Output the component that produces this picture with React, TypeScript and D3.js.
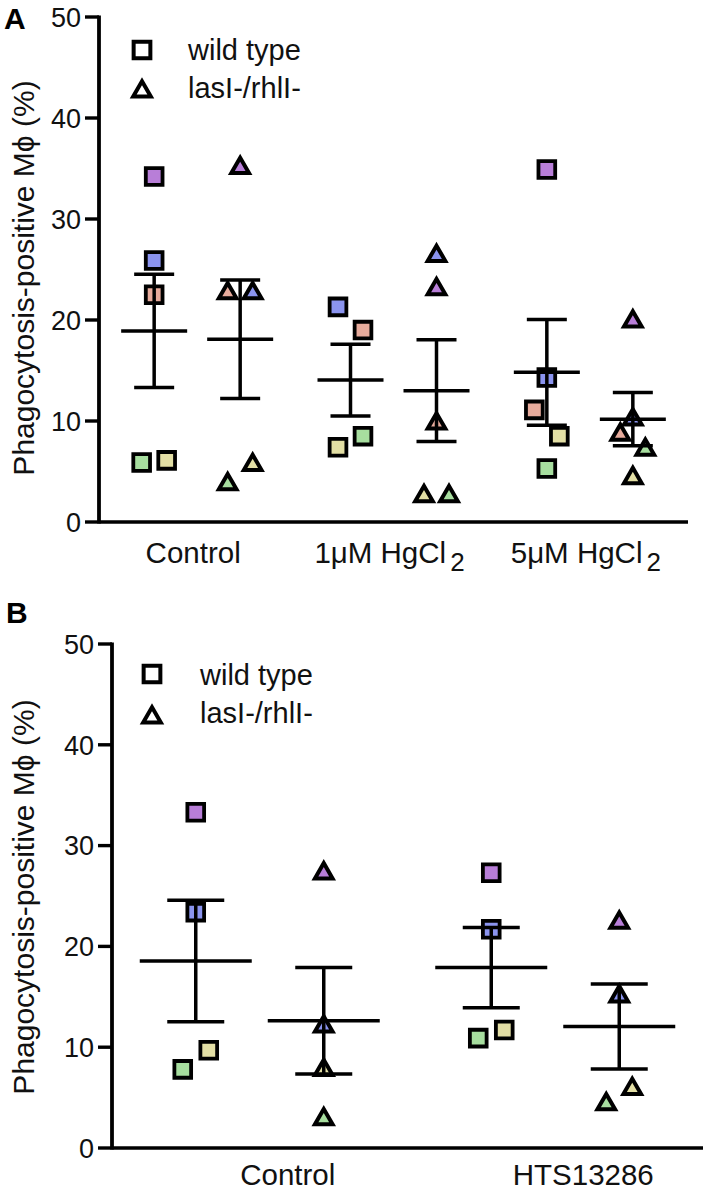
import React from "react";
import * as d3 from "d3";

// ---------- DATA ----------
const strains = ["wild type", "lasI-/rhlI-"];
const yTicks = [0, 10, 20, 30, 40, 50];

const panelACategories = ["Control", "1μM HgCl", "5μM HgCl"];
const panelASubscripts = ["", "2", "2"];
const aWildTypeValues = [
  [34.2, 25.9, 22.5, 5.9, 6.1],
  [21.3, 19.0, 7.4, 8.5],
  [34.9, 14.3, 11.1, 8.5, 5.3],
];
const aWildTypeColors = [
  ["purple", "blue", "pink", "green", "yellow"],
  ["blue", "pink", "yellow", "green"],
  ["purple", "blue", "pink", "yellow", "green"],
];
const aWildTypeSlots = [
  [0, 0, 0, -1, 1],
  [-1, 1, -1, 1],
  [0, 0, -1, 1, 0],
];
const aMutantValues = [
  [35.2, 22.8, 22.8, 3.9, 5.8],
  [26.5, 23.2, 9.9, 2.7, 2.7],
  [20.0, 10.3, 8.8, 7.3, 4.5],
];
const aMutantColors = [
  ["purple", "pink", "blue", "green", "yellow"],
  ["blue", "purple", "pink", "yellow", "green"],
  ["purple", "blue", "pink", "green", "yellow"],
];
const aMutantSlots = [
  [0, -1, 1, -1, 1],
  [0, 0, 0, -1, 1],
  [0, 0, -1, 1, 0],
];

const panelBCategories = ["Control", "HTS13286"];
const panelBSubscripts = ["", ""];
const bWildTypeValues = [
  [33.3, 23.4, 9.7, 7.8],
  [27.3, 21.7, 10.9, 11.7],
];
const bWildTypeColors = [
  ["purple", "blue", "yellow", "green"],
  ["purple", "blue", "green", "yellow"],
];
const bWildTypeSlots = [
  [0, 0, 1, -1],
  [0, 0, -1, 1],
];
const bMutantValues = [
  [27.4, 12.2, 7.9, 3.0],
  [22.5, 15.2, 6.0, 4.5],
];
const bMutantColors = [
  ["purple", "blue", "yellow", "green"],
  ["purple", "blue", "yellow", "green"],
];
const bMutantSlots = [
  [0, 0, 0, 0],
  [0, 0, 1, -1],
];

const palette: Record<string, string> = {
  purple: "#b87ed8",
  blue: "#8b94ef",
  pink: "#e7ab9c",
  yellow: "#e3dfa5",
  green: "#a7de9f",
};

// ---------- STYLE ----------
const FONT = "'Liberation Sans', Arial, Helvetica, sans-serif";
const squarePath = d3.symbol(d3.symbolSquare, 280)()!;
const trianglePath = d3.symbol(d3.symbolTriangle, 135)()!;

type Panel = {
  letter: string;
  letterPos: [number, number];
  categories: string[];
  subscripts: string[];
  wt: { values: number[][]; colors: string[][]; slots: number[][] };
  mut: { values: number[][]; colors: string[][]; slots: number[][] };
  xRange: [number, number];
  yRange: [number, number];
  subOffset: number;
  slotStep: number;
  meanHalf: number;
  capHalf: number;
  labelShift: number;
  labelY: number;
  legend: { x: number; textX: number; rows: [number, number]; baselines: [number, number] };
  titleY: number;
};

const panels: Panel[] = [
  {
    letter: "A",
    letterPos: [4, 29],
    categories: panelACategories,
    subscripts: panelASubscripts,
    wt: { values: aWildTypeValues, colors: aWildTypeColors, slots: aWildTypeSlots },
    mut: { values: aMutantValues, colors: aMutantColors, slots: aMutantSlots },
    xRange: [99, 688],
    yRange: [522, 17],
    subOffset: 43,
    slotStep: 12.5,
    meanHalf: 33,
    capHalf: 20,
    labelShift: -4,
    labelY: 563,
    legend: { x: 142, textX: 188, rows: [50, 90], baselines: [60, 98] },
    titleY: 278,
  },
  {
    letter: "B",
    letterPos: [6, 623],
    categories: panelBCategories,
    subscripts: panelBSubscripts,
    wt: { values: bWildTypeValues, colors: bWildTypeColors, slots: bWildTypeSlots },
    mut: { values: bMutantValues, colors: bMutantColors, slots: bMutantSlots },
    xRange: [112, 703],
    yRange: [1148, 644],
    subOffset: 64,
    slotStep: 13,
    meanHalf: 56,
    capHalf: 28.5,
    labelShift: 28,
    labelY: 1185,
    legend: { x: 152, textX: 200, rows: [674, 716], baselines: [685, 723] },
    titleY: 897,
  },
];

function sem(v: number[]) {
  return (d3.deviation(v) ?? 0) / Math.sqrt(v.length);
}

function PanelView({ p }: { p: Panel }) {
  const x = d3.scaleBand<string>().domain(p.categories).range(p.xRange).padding(0);
  const y = d3.scaleLinear().domain([0, 50]).range(p.yRange);
  const sub = d3.scalePoint<string>().domain(strains).range([-p.subOffset, p.subOffset]);
  const axisX = p.xRange[0];
  const groups = [
    { strain: strains[0], data: p.wt, shape: squarePath, sw: 3.8, dy: 0 },
    { strain: strains[1], data: p.mut, shape: trianglePath, sw: 4, dy: 1.5 },
  ];

  const markers: React.ReactNode[] = [];
  const bars: React.ReactNode[] = [];
  p.categories.forEach((cat, ci) => {
    const cx = (x(cat) ?? 0) + x.bandwidth() / 2;
    groups.forEach((g, gi) => {
      const gx = cx + (sub(g.strain) ?? 0);
      const vals = g.data.values[ci];
      vals.forEach((v, vi) => {
        markers.push(
          <path
            key={`m-${ci}-${gi}-${vi}`}
            d={g.shape}
            transform={`translate(${gx + g.data.slots[ci][vi] * p.slotStep},${y(v) + g.dy})`}
            fill={palette[g.data.colors[ci][vi]]}
            stroke="#000"
            strokeWidth={g.sw}
            strokeLinejoin="miter"
          />
        );
      });
      const m = d3.mean(vals) ?? 0;
      const s = sem(vals);
      bars.push(
        <g key={`b-${ci}-${gi}`} stroke="#000" strokeWidth={3.5} fill="none">
          <line x1={gx - p.meanHalf} x2={gx + p.meanHalf} y1={y(m)} y2={y(m)} />
          <line x1={gx} x2={gx} y1={y(m - s)} y2={y(m + s)} />
          <line x1={gx - p.capHalf} x2={gx + p.capHalf} y1={y(m + s)} y2={y(m + s)} />
          <line x1={gx - p.capHalf} x2={gx + p.capHalf} y1={y(m - s)} y2={y(m - s)} />
        </g>
      );
    });
  });

  return (
    <g>
      <text x={p.letterPos[0]} y={p.letterPos[1]} fontFamily={FONT} fontWeight="bold" fontSize={30}>
        {p.letter}
      </text>
      {/* y axis */}
      <line x1={axisX} x2={axisX} y1={y(0) + 1.5} y2={y(50) - 1.5} stroke="#000" strokeWidth={3.8} />
      {yTicks.map((t) => (
        <g key={t}>
          <line x1={axisX - 14} x2={axisX} y1={y(t)} y2={y(t)} stroke="#000" strokeWidth={3.4} />
          <text
            x={axisX - 18}
            y={y(t)}
            dy="0.36em"
            textAnchor="end"
            fontFamily={FONT}
            fontSize={27}
            fill="#111"
          >
            {t}
          </text>
        </g>
      ))}
      {/* x axis */}
      <line x1={axisX} x2={p.xRange[1]} y1={y(0)} y2={y(0)} stroke="#000" strokeWidth={3.6} />
      {p.categories.map((cat, ci) => (
        <text
          key={cat}
          x={(x(cat) ?? 0) + x.bandwidth() / 2 + p.labelShift}
          y={p.labelY}
          textAnchor="middle"
          fontFamily={FONT}
          fontSize={29.5}
          fill="#111"
        >
          {cat}
          {p.subscripts[ci] ? (
            <tspan dx={4} dy={8} fontSize={26}>
              {p.subscripts[ci]}
            </tspan>
          ) : null}
        </text>
      ))}
      {/* y title */}
      <text
        transform={`translate(34,${p.titleY}) rotate(-90)`}
        textAnchor="middle"
        fontFamily={FONT}
        fontSize={30}
        fill="#111"
      >
        Phagocytosis-positive Mϕ (%)
      </text>
      {/* legend */}
      {[squarePath, trianglePath].map((d, i) => (
        <g key={i}>
          <path
            d={d}
            transform={`translate(${p.legend.x},${p.legend.rows[i] + (i === 1 ? 1.5 : 0)})`}
            fill="#fff"
            stroke="#000"
            strokeWidth={4}
          />
          <text x={p.legend.textX} y={p.legend.baselines[i]} fontFamily={FONT} fontSize={29} fill="#111">
            {strains[i]}
          </text>
        </g>
      ))}
      {markers}
      {bars}
    </g>
  );
}

export default function App() {
  return (
    <svg
      width={708}
      height={1195}
      style={{ position: "absolute", left: 0, top: 0, background: "#fff" }}
    >
      <rect width={708} height={1195} fill="#fff" />
      {panels.map((p) => (
        <PanelView key={p.letter} p={p} />
      ))}
    </svg>
  );
}
